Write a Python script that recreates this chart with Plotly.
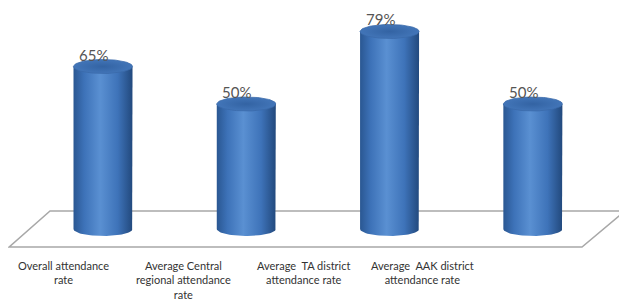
import numpy as np
import plotly.graph_objects as go

categories = [
    "Overall attendance<br>rate",
    "Average Central<br>regional attendance<br>rate",
    "Average  TA district<br>attendance rate",
    "Average  AAK district<br>attendance rate",
]
values = [65, 50, 79, 50]
value_labels = ["65%", "50%", "79%", "50%"]

# geometry / style settings
HALF_W = 0.206      # cylinder half-width in x units
ELL_H = 2.8         # half-height of ellipse caps in y units
label_x_paper = [0.0889, 0.2843, 0.4766, 0.6704]

fig = go.Figure()
t = np.linspace(0, np.pi, 40)
tf = np.linspace(0, 2 * np.pi, 80)

body_scale = [[0, "#2A5792"], [0.18, "#3D72B8"], [0.45, "#5A90D2"], [0.75, "#3E73B9"], [1, "#22497D"]]

for i, v in enumerate(values):
    bx = [i - HALF_W, i - HALF_W, i + HALF_W, i + HALF_W]
    by = [0, v, v, 0]
    ex = list(i + HALF_W * np.cos(t))
    ey = list(-ELL_H * np.sin(t))
    fig.add_trace(go.Scatter(
        x=bx + ex, y=by + ey, mode="lines", fill="toself",
        line=dict(width=0, color="#2A5792"),
        fillgradient=dict(type="horizontal", colorscale=body_scale),
        hoverinfo="skip", showlegend=False,
    ))
    fig.add_trace(go.Scatter(
        x=list(i + HALF_W * np.cos(tf)), y=list(v + ELL_H * np.sin(tf)),
        mode="lines", fill="toself",
        line=dict(width=0.8, color="#3A6AAA"),
        fillgradient=dict(type="radial", colorscale=[[0, "#3363A3"], [1, "#4275B8"]]),
        hoverinfo="skip", showlegend=False,
    ))
    fig.add_annotation(
        x=i - 0.065, y=v + ELL_H, xref="x", yref="y",
        text=value_labels[i], showarrow=False, yanchor="bottom", yshift=-6,
        font=dict(family="Lato", size=15, color="#555555"),
    )
    fig.add_annotation(
        x=label_x_paper[i], y=0.158, xref="paper", yref="paper",
        text=categories[i], showarrow=False, xanchor="center", yanchor="top",
        align="center", font=dict(family="Lato", size=11, color="#333333"),
    )

# floor
fig.add_shape(
    type="path", xref="paper", yref="paper", layer="below",
    path="M 0.0679 0.3142 L 0.9968 0.3142 L 0.9273 0.1926 L 0.002 0.1926 Z",
    line=dict(color="#A8A8A8", width=1.5), fillcolor="white",
)

fig.update_layout(
    width=619, height=296,
    margin=dict(l=0, r=0, t=0, b=0),
    paper_bgcolor="white", plot_bgcolor="white",
    xaxis=dict(range=[-0.663, 3.657], visible=False, fixedrange=True),
    yaxis=dict(range=[-30, 88.4], visible=False, fixedrange=True),
    showlegend=False,
)
fig.write_html("out.html")
